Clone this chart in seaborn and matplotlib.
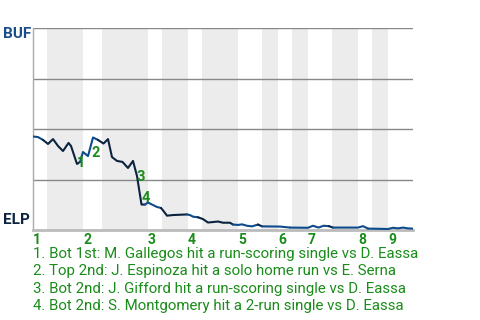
import matplotlib
matplotlib.use("Agg")
import matplotlib.pyplot as plt
import seaborn as sns
import pandas as pd
import numpy as np

# ---- data ----
teams = ["BUF", "ELP"]
innings = ["1", "2", "3", "4", "5", "6", "7", "8", "9"]
# half-inning boundaries (plate-appearance units): top1, bot1, top2, bot2, ...
half_bounds = [0, 2.8, 10, 13.8, 23, 25.8, 31, 33.8, 41, 45.8, 49, 51.8, 55, 59.8, 65, 67.8, 71, 76]

pa = [0, 1, 2, 3, 4, 5, 6, 7.1, 7.6, 8.8, 9.4, 10, 11, 12, 13, 14.1, 15, 15.8, 16.8, 17.9,
      19, 20, 20.8, 21.7, 22.4, 23, 23.8, 24.8, 25.6, 26.1, 26.8, 28, 30.8, 31.4, 32, 33,
      34, 35, 37, 38, 39.4, 40, 41, 41.8, 42.8, 43.8, 45, 45.8, 49.4, 51.4, 55, 56, 57.1,
      58.1, 59.2, 60, 65, 66, 67, 71, 72, 73, 74, 75, 76]
buf_wp = [46.3, 46.0, 44.6, 42.6, 45.0, 41.6, 39.1, 43.1, 41.6, 32.7, 33.7, 38.6, 36.6, 45.8,
          44.6, 42.8, 45.0, 36.1, 34.2, 33.7, 30.7, 34.2, 26.7, 12.6, 12.6, 13.6, 12.6, 11.4,
          10.9, 9.4, 7.1, 7.4, 7.7, 7.4, 6.6, 6.3, 5.4, 3.7, 4.2, 3.6, 3.6, 2.7, 2.5, 2.8,
          2.1, 1.8, 2.7, 1.8, 1.7, 1.2, 1.1, 2.1, 1.2, 2.1, 1.9, 1.2, 1.2, 1.9, 0.7, 0.5,
          1.1, 0.8, 1.2, 0.8, 0.7]

event_ids = ["1", "2", "3", "4"]
event_pa = [9.5, 12.6, 21.6, 22.6]
event_wp = [33.2, 38.1, 26.2, 15.8]
event_text = [
    "1. Bot 1st: M. Gallegos hit a run-scoring single vs D. Eassa",
    "2. Top 2nd: J. Espinoza hit a solo home run vs E. Serna",
    "3. Bot 2nd: J. Gifford hit a run-scoring single vs D. Eassa",
    "4. Bot 2nd: S. Montgomery hit a 2-run single vs D. Eassa",
]

# ---- style ----
BLUE = "#0d4b8c"
NAVY = "#0c2340"
GREEN = "#1a8c1a"
BAND = "#ececec"

sns.set_theme(style="white")
plt.rcParams["font.family"] = ["Roboto", "DejaVu Sans"]

W, H = 480, 320
fig = plt.figure(figsize=(W / 100, H / 100), dpi=100)
ax = fig.add_axes([33 / W, 1 - 230 / H, 380 / W, 202 / H])

df = pd.DataFrame({"pa": pa, "wp": buf_wp})
df["half"] = np.searchsorted(half_bounds, df["pa"], side="right") - 1
df["half"] = df["half"].clip(0, len(half_bounds) - 2)

# shaded bottom halves
for i in range(1, len(half_bounds) - 1, 2):
    ax.axvspan(half_bounds[i], half_bounds[i + 1], color=BAND, lw=0, zorder=0)

# grid lines
for g in [25, 50, 75, 100]:
    ax.axhline(g, color="#888888", lw=1, zorder=1)

# line, coloured by batting team
for h in range(len(half_bounds) - 1):
    idx = df.index[df["half"] == h]
    if len(idx) == 0:
        continue
    start = max(idx[0] - 1, 0)
    seg = df.loc[start: idx[-1]]
    sns.lineplot(data=seg, x="pa", y="wp", ax=ax, color=BLUE if h % 2 == 0 else NAVY,
                 lw=1.5, zorder=3, legend=False, sort=False, estimator=None)

for eid, ex, ey in zip(event_ids, event_pa, event_wp):
    ax.text(ex, ey, eid, color=GREEN, fontsize=10.5, fontweight="bold",
            ha="center", va="center", zorder=4)

ax.set_xlim(half_bounds[0], half_bounds[-1])
ax.set_ylim(0, 100)
ax.set_xlabel("")
ax.set_ylabel("")
ax.set_yticks([])
ax.set_xticks(half_bounds[0:-1:2])
ax.set_xticklabels(innings, color=GREEN, fontsize=10, fontweight="bold", ha="left")
ax.tick_params(axis="x", length=0, pad=2)

for s in ["top", "right"]:
    ax.spines[s].set_visible(False)
ax.spines["left"].set_color("#aaaaaa")
ax.spines["left"].set_linewidth(1)
ax.spines["bottom"].set_color("#bbbbbb")
ax.spines["bottom"].set_linewidth(2)

fig.text(3 / W, 1 - 34 / H, teams[0], color="#1a4e8a", fontsize=11, fontweight="bold",
         ha="left", va="center")
fig.text(3 / W, 1 - 220.5 / H, teams[1], color=NAVY, fontsize=11, fontweight="bold",
         ha="left", va="center")

for i, t in enumerate(event_text):
    fig.text(33 / W, 1 - (254 + 17.4 * i) / H, t, color=GREEN, fontsize=10.8,
             ha="left", va="center")

fig.savefig("out.png", dpi=100)
